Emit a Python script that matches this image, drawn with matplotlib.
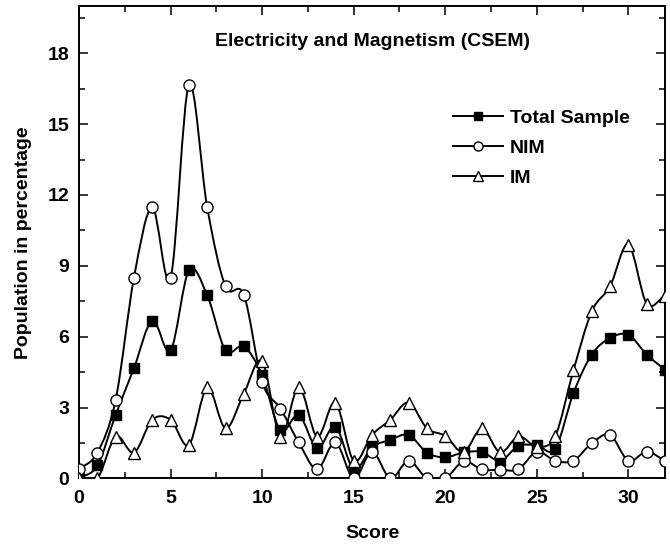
import matplotlib
matplotlib.use("Agg")
import matplotlib.pyplot as plt
import numpy as np
from matplotlib.path import Path
from matplotlib.patches import PathPatch
from matplotlib.lines import Line2D

plt.rcParams['font.family'] = ['Liberation Sans', 'DejaVu Sans']
plt.rcParams['font.weight'] = 'bold'

# score values 0..32
scores = list(range(33))

total = [0.0, 0.55, 2.69, 4.67, 6.68, 5.42, 8.81, 7.75, 5.42, 5.59, 4.36,
         2.03, 2.69, 1.28, 2.19, 0.39, 1.32, 1.63, 1.84, 1.09, 0.89,
         1.10, 1.12, 0.75, 1.37, 1.40, 1.25, 3.61, 5.24, 5.94, 6.08, 5.24, 4.60]
nim = [0.38, 1.09, 3.33, 8.50, 11.47, 8.50, 16.66, 11.47, 8.13, 7.77, 4.08,
       2.95, 1.52, 0.39, 1.52, 0.0, 1.13, 0.0, 0.75, 0.0, 0.0,
       0.72, 0.38, 0.36, 0.39, 1.13, 0.75, 0.75, 1.49, 1.84, 0.75, 1.13, 0.75]
im = [0.0, 0.0, 1.77, 1.09, 2.48, 2.48, 1.42, 3.85, 2.12, 3.59, 4.95,
      1.77, 3.88, 1.77, 3.21, 0.75, 1.84, 2.48, 3.21, 2.12, 1.80,
      1.11, 2.12, 1.10, 1.78, 1.35, 1.78, 4.57, 7.07, 8.13, 9.90, 7.40, 7.74]

labels = ["Total Sample", "NIM", "IM"]


def smooth_path(x, y):
    # Catmull-Rom style bezier through the points, drawn by matplotlib's Path
    x = np.asarray(x, float)
    y = np.asarray(y, float)
    n = len(x)
    m = np.zeros(n)
    m[1:-1] = (y[2:] - y[:-2]) / (x[2:] - x[:-2])
    m[0] = (y[1] - y[0]) / (x[1] - x[0])
    m[-1] = (y[-1] - y[-2]) / (x[-1] - x[-2])
    verts = [(x[0], y[0])]
    codes = [Path.MOVETO]
    for i in range(n - 1):
        h = x[i + 1] - x[i]
        verts += [(x[i] + h / 3, y[i] + m[i] * h / 3),
                  (x[i + 1] - h / 3, y[i + 1] - m[i + 1] * h / 3),
                  (x[i + 1], y[i + 1])]
        codes += [Path.CURVE4] * 3
    return Path(verts, codes)


fig = plt.figure(figsize=(6.7, 5.44), dpi=100)
ax = fig.add_axes([0.118, 0.1206, 0.8745, 0.8684])

styles = [
    dict(marker='s', mfc='black', mec='black', ms=6.5),
    dict(marker='o', mfc='white', mec='black', ms=8),
    dict(marker='^', mfc='white', mec='black', ms=8.5),
]

handles = []
for vals, st, lab in zip([total, nim, im], styles, labels):
    ax.add_patch(PathPatch(smooth_path(scores, vals), fill=False,
                           edgecolor='black', lw=1.4, zorder=2))
    ax.plot(scores, vals, ls='none', mew=1.0, zorder=3, **st)
    handles.append(Line2D([], [], color='black', lw=1.4, mew=1.0,
                          **{**st, 'ms': 6.5 if st['marker'] != 's' else 6}))

ax.set_xlim(0, 32)
ax.set_ylim(0, 20)
ax.set_xticks(range(0, 31, 5))
ax.set_xticks(np.arange(0, 32.1, 2.5), minor=True)
ax.set_yticks(range(0, 19, 3))
ax.set_yticks(np.arange(0, 20.1, 1.5), minor=True)

ax.tick_params(which='both', direction='in', top=True, right=True,
               labelsize=14, width=1.1)
ax.tick_params(axis='x', which='major', length=6.5, pad=8)
ax.tick_params(axis='y', which='major', length=6.5, pad=7)
ax.tick_params(which='minor', length=4)
for sp in ax.spines.values():
    sp.set_linewidth(1.4)

ax.set_xlabel("Score", fontsize=14, fontweight='bold', labelpad=13)
ax.set_ylabel("Population in percentage", fontsize=14, fontweight='bold', labelpad=11)

ax.text(0.5, 0.925, "Electricity and Magnetism (CSEM)", transform=ax.transAxes,
        ha='center', va='center', fontsize=14, fontweight='bold')

ax.legend(handles, labels, loc='upper left', bbox_to_anchor=(0.638, 0.782),
          frameon=False, fontsize=14, handlelength=2.6, handletextpad=0.35,
          labelspacing=0.65, borderpad=0, borderaxespad=0)

fig.savefig("out.png", dpi=100)
